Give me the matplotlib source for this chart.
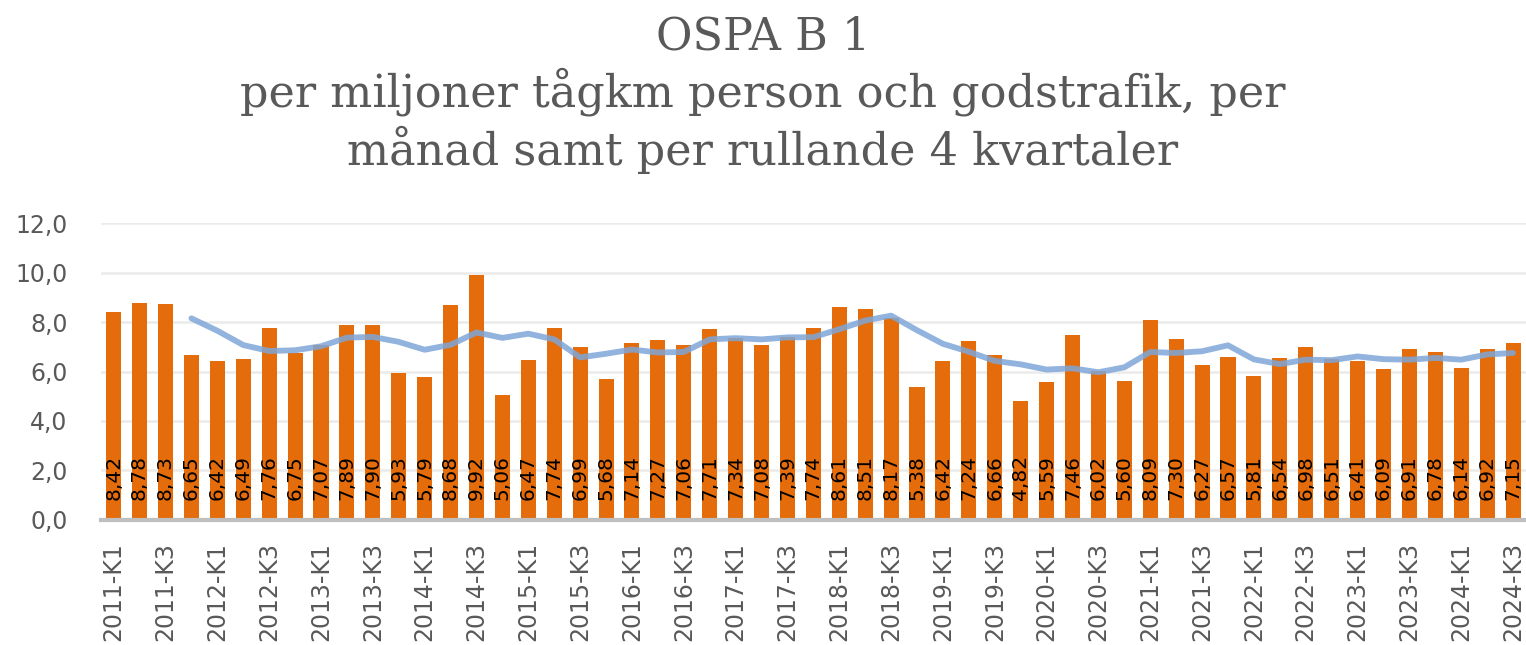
import numpy as np
import matplotlib

matplotlib.use("Agg")
import matplotlib.pyplot as plt

# quarters 2011-K1 .. 2024-K3
quarters = [f"{y}-K{q}" for y in range(2011, 2025) for q in range(1, 5)][:55]

# OSPA B 1 per quarter
values = [
    8.42, 8.78, 8.73, 6.65, 6.42, 6.49, 7.76, 6.75, 7.07, 7.89, 7.90,
    5.93, 5.79, 8.68, 9.92, 5.06, 6.47, 7.74, 6.99, 5.68, 7.14, 7.27,
    7.06, 7.71, 7.34, 7.08, 7.39, 7.74, 8.61, 8.51, 8.17, 5.38, 6.42,
    7.24, 6.66, 4.82, 5.59, 7.46, 6.02, 5.60, 8.09, 7.30, 6.27, 6.57,
    5.81, 6.54, 6.98, 6.51, 6.41, 6.09, 6.91, 6.78, 6.14, 6.92, 7.15,
]

# rolling 4 quarters
rolling = [
    np.nan, np.nan, np.nan, 8.15, 7.65, 7.07, 6.83, 6.86, 7.02, 7.37, 7.40,
    7.20, 6.88, 7.08, 7.58, 7.36, 7.53, 7.30, 6.57, 6.72, 6.89, 6.77,
    6.79, 7.30, 7.35, 7.30, 7.38, 7.39, 7.71, 8.06, 8.26, 7.67, 7.12,
    6.80, 6.43, 6.29, 6.08, 6.13, 5.97, 6.17, 6.79, 6.75, 6.82, 7.06,
    6.49, 6.30, 6.48, 6.46, 6.61, 6.50, 6.48, 6.55, 6.48, 6.69, 6.75,
]

title = "OSPA B 1\nper miljoner tågkm person och godstrafik, per\nmånad samt per rullande 4 kvartaler"

BAR = "#E46C0A"
LINE = "#7EA6D8"
GREY = "#595959"

fig = plt.figure(figsize=(15.26, 6.45), dpi=100)
ax = fig.add_axes([0.066, 0.194, 0.934, 0.46])

x = np.arange(len(values))
ax.bar(x, values, width=0.58, color=BAR, zorder=2)
ax.plot(x, rolling, color=LINE, linewidth=4.2, alpha=0.85, zorder=3,
        solid_capstyle="round")

for xi, v in zip(x, values):
    ax.text(xi, 0.8, f"{v:.2f}".replace(".", ","), rotation=90,
            ha="center", va="bottom", fontsize=14.5, color="black", zorder=4)

ax.set_xlim(-0.5, len(values) - 0.5)
ax.set_ylim(0, 12)
yt = np.arange(0, 13, 2)
ax.set_yticks(yt)
ax.set_yticklabels([f"{t:.1f}".replace(".", ",") for t in yt],
                   fontsize=17, color=GREY)
ax.set_xticks(x[::2])
ax.set_xticklabels(quarters[::2], rotation=90, fontsize=17, color=GREY)
ax.tick_params(axis="both", length=0)
ax.tick_params(axis="x", pad=16)
ax.tick_params(axis="y", pad=24)

ax.grid(axis="y", color="#EBEBEB", linewidth=1.8, zorder=0)
ax.set_axisbelow(True)
for s in ["top", "right", "left"]:
    ax.spines[s].set_visible(False)
ax.spines["bottom"].set_color("#BFBFBF")
ax.spines["bottom"].set_linewidth(3)
ax.spines["bottom"].set_zorder(5)

fig.text(0.5, 0.977, title, ha="center", va="top", fontsize=32,
         family="DejaVu Serif", color=GREY, linespacing=1.25)

fig.savefig("out.png", dpi=100)
